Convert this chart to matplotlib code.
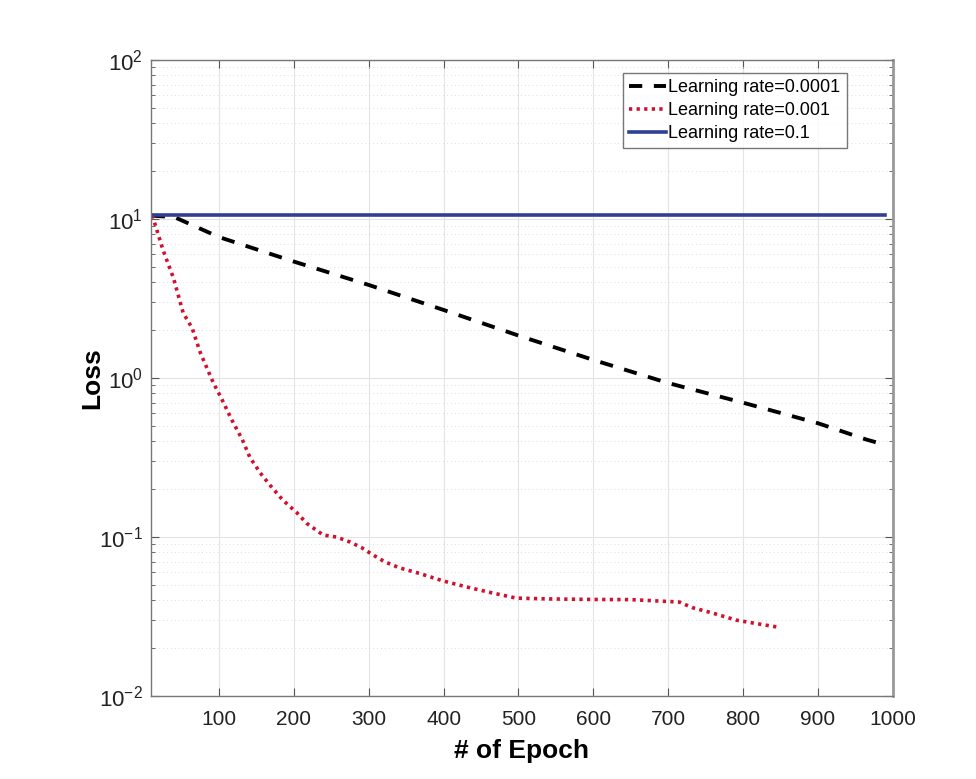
import numpy as np
import matplotlib
matplotlib.use("Agg")
import matplotlib.pyplot as plt
from matplotlib.ticker import LogLocator, NullFormatter, FixedLocator

plt.rcParams['font.family'] = ['Liberation Sans', 'DejaVu Sans']
plt.rcParams['mathtext.fontset'] = 'custom'
plt.rcParams['mathtext.rm'] = 'Liberation Sans'
plt.rcParams['mathtext.default'] = 'regular'

# ------------------ data ------------------
ep_lr_0001 = [10, 40, 100, 200, 300, 400, 500, 600, 700, 800, 900, 965, 990]
loss_lr_0001 = [10.5, 10.3, 7.7, 5.4, 3.85, 2.68, 1.85, 1.30, 0.93, 0.70, 0.52, 0.41, 0.38]

ep_lr_001 = [10, 12, 25, 39, 52, 64, 75, 92, 104, 117, 131, 141, 155, 168, 185,
             204, 217, 239, 257, 275, 290, 304, 321, 341, 368, 399, 431, 465,
             497, 541, 600, 650, 715, 732, 759, 791, 821, 845]
loss_lr_001 = [10.5, 10.1, 6.4, 4.26, 2.57, 2.06, 1.44, 0.94, 0.73, 0.545, 0.41,
               0.318, 0.253, 0.212, 0.171, 0.142, 0.122, 0.103, 0.100, 0.093,
               0.086, 0.078, 0.070, 0.064, 0.059, 0.053, 0.0485, 0.0445, 0.0413,
               0.0408, 0.0405, 0.0404, 0.039, 0.036, 0.0333, 0.030, 0.0284, 0.0272]

ep_lr_1 = [10, 990]
loss_lr_1 = [10.6, 10.6]

x_ticks = [100, 200, 300, 400, 500, 600, 700, 800, 900, 1000]
y_ticks = [1e-2, 1e-1, 1e0, 1e1, 1e2]
y_tick_labels = ['$10^{-2}$', '$10^{-1}$', '$10^{0}$', '$10^{1}$', '$10^{2}$']
# -----------------------------------------------------------------

fig = plt.figure(figsize=(9.76, 7.79), dpi=100)
ax = fig.add_axes([0.1547, 0.1065, 0.760, 0.8164])

l1, = ax.plot(ep_lr_0001, loss_lr_0001, color='black', lw=2.8, linestyle=(0, (3.4, 3.0)),
              label='Learning rate=0.0001')
l2, = ax.plot(ep_lr_001, loss_lr_001, color='#d2102e', lw=2.6, linestyle=(0, (0.9, 1.2)),
              label='Learning rate=0.001')
l3, = ax.plot(ep_lr_1, loss_lr_1, color='#2f3f96', lw=2.6, label='Learning rate=0.1')
for ln in (l1, l2):
    ln.set_dash_capstyle('butt')

ax.set_yscale('log')
ax.set_xlim(9, 1000)
ax.set_ylim(1e-2, 1e2)
ax.xaxis.set_major_locator(FixedLocator(x_ticks))
ax.set_yticks(y_ticks)
ax.set_yticklabels(y_tick_labels)
ax.yaxis.set_minor_locator(LogLocator(base=10, subs=np.arange(2, 10)))
ax.yaxis.set_minor_formatter(NullFormatter())

ax.grid(True, which='major', color='#e4e4e4', lw=0.8)
ax.grid(True, which='minor', axis='y', color='#dcdcdc', lw=0.7, linestyle=(0, (1, 3)))
ax.set_axisbelow(True)

ax.tick_params(which='both', direction='in', top=True, right=True, colors='#555555',
               labelcolor='#222222')
ax.tick_params(axis='x', labelsize=15, pad=10)
ax.tick_params(axis='y', labelsize=16, pad=6)
ax.tick_params(which='major', length=6)
ax.tick_params(which='minor', length=3)
for sp in ax.spines.values():
    sp.set_color('#777777')
    sp.set_linewidth(1.0)
ax.spines['right'].set_linewidth(2.0)
ax.spines['right'].set_color('#999999')

ax.set_xlabel('# of Epoch', fontsize=19, fontweight='bold', labelpad=7)
ax.set_ylabel('Loss', fontsize=19, fontweight='bold', labelpad=-4)

leg = ax.legend(loc='upper right', bbox_to_anchor=(0.938, 0.98), fontsize=13,
                frameon=True, fancybox=False, handlelength=2.0, handletextpad=0.15,
                borderpad=0.35, labelspacing=0.33, borderaxespad=0)
leg.get_frame().set_edgecolor('#555555')
leg.get_frame().set_linewidth(1.0)

plt.savefig('out.png', dpi=100)
